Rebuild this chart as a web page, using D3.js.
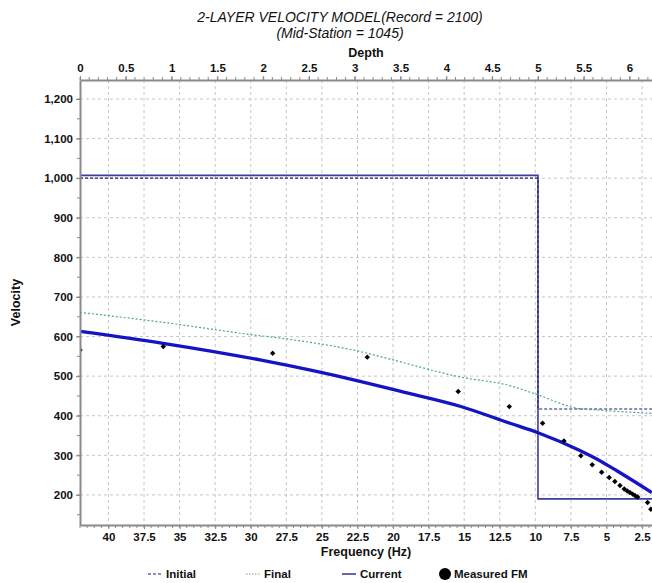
<!DOCTYPE html>
<html>
<head>
<meta charset="utf-8">
<script src="https://cdn.jsdelivr.net/npm/d3@7"></script>
<style>
  html, body { margin: 0; padding: 0; background: #fff; overflow: hidden; }
  svg { display: block; font-family: "Liberation Sans", Arial, sans-serif; }
</style>
</head>
<body>
<svg id="chart" width="652" height="583"></svg>
<script>
// ---- axis tick values ----
const freqTicks = [40, 37.5, 35, 32.5, 30, 27.5, 25, 22.5, 20, 17.5, 15, 12.5, 10, 7.5, 5, 2.5];
const depthTicks = [0, 0.5, 1, 1.5, 2, 2.5, 3, 3.5, 4, 4.5, 5, 5.5, 6];
const velocityTicks = [200, 300, 400, 500, 600, 700, 800, 900, 1000, 1100, 1200];

// ---- 2-layer model: top depth of each layer and its velocity ----
const layerTops = [0, 5];
const initialVelocity = [1000, 417];
const currentVelocity = [1007, 190];

// ---- final dispersion curve (frequency, velocity) ----
const finalFreq = [42, 36.2, 30, 27.5, 22.3, 20, 15.3, 11.8, 9.84, 7.08, 5.46, 1.8];
const finalVel  = [661, 636, 605, 594, 562, 541, 498, 476, 453, 419, 414, 406];

// ---- current dispersion curve ----
const currentFreq = [42, 36.17, 29.35, 22.32, 19.51, 15.29, 11.78, 9.81, 6.87, 5.25, 4.27, 1.81];
const currentVel  = [613, 583, 541, 487, 462, 424, 381, 357, 312, 282, 261, 206];

// ---- measured FM picks ----
const measuredFreq = [42.0, 36.15, 28.46, 21.81, 15.42, 11.83, 9.49, 7.99, 6.80, 6.00, 5.34,
                      4.81, 4.41, 4.05, 3.75, 3.54, 3.35, 3.16, 2.98, 2.81, 2.11, 1.88];
const measuredVel  = [566, 575, 558, 548, 461, 423, 381, 336, 299, 276, 257,
                      244, 234, 224, 215, 210, 206, 202, 198, 195, 181, 164];

const legendLabels = ["Initial", "Final", "Current", "Measured FM"];

// ---- layout ----
const plotLeft = 80, plotRight = 652, plotTop = 80, plotBottom = 525;

const svg = d3.select("#chart");

const x = d3.scaleLinear().domain([42, 1.8]).range([plotLeft, plotRight]);     // frequency (reversed)
const xd = d3.scaleLinear().domain([0, 6.245]).range([plotLeft, plotRight]);   // depth
const y = d3.scaleLinear().domain([124, 1248]).range([plotBottom, plotTop]);   // velocity

const axisColor = "#8a8a8a";
const textColor = "#111";

// clip region for plotted marks
svg.append("defs").append("clipPath").attr("id", "plotClip")
  .append("rect").attr("x", plotLeft).attr("y", plotTop)
  .attr("width", plotRight - plotLeft).attr("height", plotBottom - plotTop);

// ---- grid ----
const grid = svg.append("g");
grid.selectAll("line.h").data(velocityTicks).join("line")
  .attr("x1", plotLeft).attr("x2", plotRight)
  .attr("y1", d => y(d)).attr("y2", d => y(d))
  .attr("stroke", "#c6c6c6").attr("stroke-width", 1).attr("stroke-dasharray", "3,3");
grid.selectAll("line.v").data(freqTicks).join("line")
  .attr("x1", d => x(d)).attr("x2", d => x(d))
  .attr("y1", plotTop).attr("y2", plotBottom)
  .attr("stroke", "#c6c6c6").attr("stroke-width", 1).attr("stroke-dasharray", "3,3");

// ---- plotted marks ----
const plot = svg.append("g").attr("clip-path", "url(#plotClip)");

function modelPoints(vels) {
  const pts = layerTops.map((d, i) => [d, vels[i]]);
  pts.push([xd.domain()[1], vels[vels.length - 1]]);
  return pts;
}
const stepLine = d3.line().x(d => xd(d[0])).y(d => y(d[1])).curve(d3.curveStepAfter);

// current model (solid)
plot.append("path").attr("d", stepLine(modelPoints(currentVelocity)))
  .attr("fill", "none").attr("stroke", "#3e3e9e").attr("stroke-width", 1.6);
// initial model (dashed)
plot.append("path").attr("d", stepLine(modelPoints(initialVelocity)))
  .attr("fill", "none").attr("stroke", "#1c1c70").attr("stroke-width", 1.2)
  .attr("stroke-dasharray", "3,2");

const curveLine = d3.line().x(d => x(d[0])).y(d => y(d[1])).curve(d3.curveMonotoneX);

// final dispersion (dotted)
plot.append("path").attr("d", curveLine(finalFreq.map((f, i) => [f, finalVel[i]])))
  .attr("fill", "none").attr("stroke", "#4fa39a").attr("stroke-width", 1.2)
  .attr("stroke-dasharray", "2,2");

// current dispersion (thick solid)
plot.append("path").attr("d", curveLine(currentFreq.map((f, i) => [f, currentVel[i]])))
  .attr("fill", "none").attr("stroke", "#1414c4").attr("stroke-width", 3.3)
  .attr("stroke-linejoin", "round");

// measured FM diamonds
const diamond = d3.symbol().type(d3.symbolSquare).size(15);
plot.selectAll("path.pick").data(measuredFreq.map((f, i) => [f, measuredVel[i]])).join("path")
  .attr("class", "pick")
  .attr("d", diamond)
  .attr("transform", d => `translate(${x(d[0])},${y(d[1])}) rotate(45)`)
  .attr("fill", "#000");

// ---- axes ----
function styleAxis(g) {
  g.select(".domain").attr("stroke", axisColor).attr("stroke-width", 2);
  g.selectAll(".tick line").attr("stroke", axisColor);
  g.selectAll(".tick text").attr("fill", textColor)
    .attr("font-size", "11.5px").attr("font-weight", "bold")
    .attr("font-family", "'Liberation Sans', Arial, sans-serif");
}

// minor ticks
const minor = svg.append("g").attr("stroke", axisColor).attr("stroke-width", 1);
minor.selectAll("line.mb").data(d3.range(2, 42.01, 0.5)).join("line")
  .attr("x1", d => x(d)).attr("x2", d => x(d)).attr("y1", plotBottom).attr("y2", plotBottom + 3);
minor.selectAll("line.mt").data(d3.range(0, 6.21, 0.1)).join("line")
  .attr("x1", d => xd(d)).attr("x2", d => xd(d)).attr("y1", plotTop).attr("y2", plotTop - 3);
minor.selectAll("line.ml").data(d3.range(150, 1250, 50)).join("line")
  .attr("x1", plotLeft).attr("x2", plotLeft - 3).attr("y1", d => y(d)).attr("y2", d => y(d));

svg.append("g").attr("transform", `translate(0,${plotBottom})`)
  .call(d3.axisBottom(x).tickValues(freqTicks).tickSize(4).tickSizeOuter(0).tickPadding(4)
        .tickFormat(d3.format("")))
  .call(styleAxis);

svg.append("g").attr("transform", `translate(0,${plotTop})`)
  .call(d3.axisTop(xd).tickValues(depthTicks).tickSize(4).tickSizeOuter(0).tickPadding(4)
        .tickFormat(d3.format("")))
  .call(styleAxis);

svg.append("g").attr("transform", `translate(${plotLeft},0)`)
  .call(d3.axisLeft(y).tickValues(velocityTicks).tickSize(4).tickSizeOuter(0).tickPadding(3)
        .tickFormat(d3.format(",")))
  .call(styleAxis);

svg.selectAll(".domain").raise();

// ---- titles ----
svg.append("text").attr("x", 340).attr("y", 22).attr("text-anchor", "middle")
  .attr("font-size", "14px").attr("font-style", "italic").attr("fill", textColor)
  .text("2-LAYER VELOCITY MODEL(Record = 2100)");
svg.append("text").attr("x", 340).attr("y", 38).attr("text-anchor", "middle")
  .attr("font-size", "14px").attr("font-style", "italic").attr("fill", textColor)
  .text("(Mid-Station = 1045)");

svg.append("text").attr("x", (plotLeft + plotRight) / 2).attr("y", 56.5).attr("text-anchor", "middle")
  .attr("font-size", "12.5px").attr("font-weight", "bold").attr("fill", textColor)
  .text("Depth");
svg.append("text").attr("x", (plotLeft + plotRight) / 2).attr("y", 556).attr("text-anchor", "middle")
  .attr("font-size", "12.5px").attr("font-weight", "bold").attr("fill", textColor)
  .text("Frequency (Hz)");
svg.append("text")
  .attr("transform", `translate(20,${(plotTop + plotBottom) / 2}) rotate(-90)`)
  .attr("text-anchor", "middle")
  .attr("font-size", "12.5px").attr("font-weight", "bold").attr("fill", textColor)
  .text("Velocity");

// ---- legend ----
const legendY = 574;
const legendX = [148, 246, 342, 439];
const legend = svg.append("g");
const styles = [
  { stroke: "#1c1c70", dash: "3,2", w: 1.2 },
  { stroke: "#8a9a98", dash: "1.5,1.5", w: 1.2 },
  { stroke: "#3e3e9e", dash: null, w: 1.6 }
];
legendLabels.forEach((label, i) => {
  const g = legend.append("g").attr("transform", `translate(${legendX[i]},${legendY})`);
  if (i < 3) {
    g.append("line").attr("x1", 0).attr("x2", 14).attr("y1", 0).attr("y2", 0)
      .attr("stroke", styles[i].stroke).attr("stroke-width", styles[i].w)
      .attr("stroke-dasharray", styles[i].dash);
    g.append("text").attr("x", 18).attr("y", 4).attr("font-size", "11.5px")
      .attr("font-weight", "bold").attr("fill", textColor).text(label);
  } else {
    g.append("circle").attr("cx", 6).attr("cy", 0).attr("r", 6).attr("fill", "#000");
    g.append("text").attr("x", 15).attr("y", 4).attr("font-size", "11.5px")
      .attr("font-weight", "bold").attr("fill", textColor).text(label);
  }
});
</script>
</body>
</html>
